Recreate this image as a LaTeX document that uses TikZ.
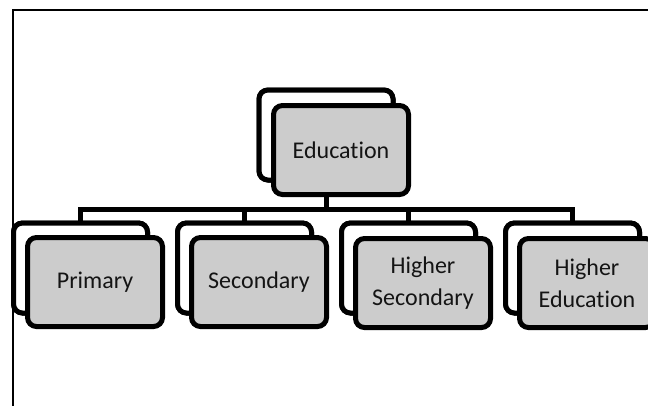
\documentclass[tikz,border=0pt]{standalone}
\usepackage{fontspec}
\setmainfont{Carlito}[Ligatures=NoCommon]
\begin{document}
\begin{tikzpicture}[x=1pt,y=-1pt,
  backbox/.style={draw=black,line width=5pt,rounded corners=9pt,fill=white,
    minimum width=134pt,minimum height=90pt,inner sep=0pt},
  frontbox/.style={draw=black,line width=5pt,rounded corners=9pt,fill=boxgray,
    minimum width=135pt,minimum height=89pt,inner sep=0pt,align=center,
    font=\fontsize{24}{32}\selectfont,text=black!92},
  conn/.style={draw=black,line width=5pt}]
\definecolor{boxgray}{HTML}{CCCCCC}
\useasboundingbox (0,0) rectangle (648,405);
% frame
\draw[line width=2.5pt] (13,420) -- (13,10) -- (660,10);
\coordinate (bar) at (326,209.5);
% back boxes (positions for connectors)
\path (326,135) node[backbox] (eduB) {};
\path (80.5,268) node[backbox] (pB) {};
\path (244.5,268) node[backbox] (sB) {};
\path (408.5,268) node[backbox] (hsB) {};
\path (572.5,268) node[backbox] (heB) {};
% connectors
\draw[conn] (eduB.south) -- (bar);
\draw[conn] (bar) -| (pB.north);
\draw[conn] (bar) -| (sB.north);
\draw[conn] (bar) -| (hsB.north);
\draw[conn] (bar) -| (heB.north);
% back boxes again over the connector ends
\path (326,135) node[backbox] (eduB2) {};
\path (80.5,268) node[backbox] (pB2) {};
\path (244.5,268) node[backbox] (sB2) {};
\path (408.5,268) node[backbox] (hsB2) {};
\path (572.5,268) node[backbox] (heB2) {};
% front boxes
\node[frontbox] (edu) at (341,150) {Education};
\node[frontbox] (p) at (95,282) {Primary};
\node[frontbox] (s) at (259,282) {Secondary};
\node[frontbox] (hs) at (423,283) {Higher\\Secondary};
\node[frontbox] (he) at (587,283) {Higher\\Education};
\end{tikzpicture}
\end{document}
